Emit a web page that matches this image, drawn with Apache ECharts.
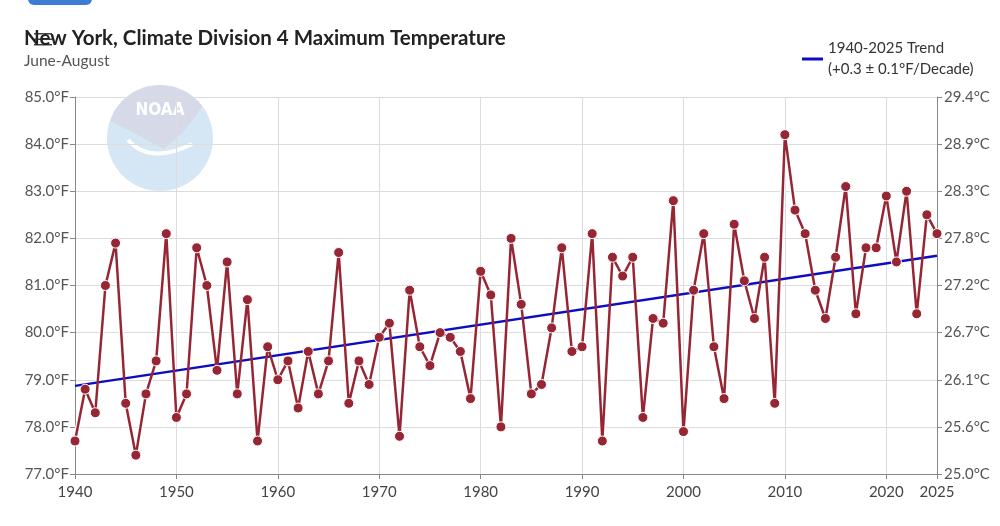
<!DOCTYPE html>
<html lang="en">
<head>
    <meta charset="UTF-8">
    <title>New York, Climate Division 4 Maximum Temperature</title>
    <script src="https://cdn.jsdelivr.net/npm/echarts@6.0.0/dist/echarts.min.js"></script>
    <style>
        html, body { margin: 0; padding: 0; background: #fff; }
    </style>
</head>
<body>
    <div id="main" style="width: 1000px;height:526px;"></div>
    <script type="text/javascript">
        // Summer (Jun-Aug) maximum temperature, degF, one value per year
        const years = [];
        for (let y = 1940; y <= 2025; y++) years.push(y);

        const tempF = [
            77.7, 78.8, 78.3, 81.0, 81.9, 78.5, 77.4, 78.7, 79.4, 82.1,  // 1940s
            78.2, 78.7, 81.8, 81.0, 79.2, 81.5, 78.7, 80.7, 77.7, 79.7,  // 1950s
            79.0, 79.4, 78.4, 79.6, 78.7, 79.4, 81.7, 78.5, 79.4, 78.9,  // 1960s
            79.9, 80.2, 77.8, 80.9, 79.7, 79.3, 80.0, 79.9, 79.6, 78.6,  // 1970s
            81.3, 80.8, 78.0, 82.0, 80.6, 78.7, 78.9, 80.1, 81.8, 79.6,  // 1980s
            79.7, 82.1, 77.7, 81.6, 81.2, 81.6, 78.2, 80.3, 80.2, 82.8,  // 1990s
            77.9, 80.9, 82.1, 79.7, 78.6, 82.3, 81.1, 80.3, 81.6, 78.5,  // 2000s
            84.2, 82.6, 82.1, 80.9, 80.3, 81.6, 83.1, 80.4, 81.8, 81.8,  // 2010s
            82.9, 81.5, 83.0, 80.4, 82.5, 82.1                           // 2020s
        ];

        // trend line end points (1940, 2025)
        const trendYears = [1940, 2025];
        const trendF = [78.87, 81.63];

        const fTicks = { min: 77, max: 85, step: 1 };

        const tempData = years.map((y, i) => [y, tempF[i]]);
        const trendData = trendYears.map((y, i) => [y, trendF[i]]);

        const font = 'Lato';
        const red = '#972635';
        const blue = '#0c0cc4';

        let myChart = echarts.init(document.getElementById('main'));

        let options = {
            animation: false,
            textStyle: { fontFamily: font },
            title: {
                text: 'New York, Climate Division 4 Maximum Temperature',
                subtext: 'June-August',
                left: 19,
                top: 23,
                itemGap: 4,
                textStyle: { fontFamily: font, fontSize: 20.5, fontWeight: 'bold', color: '#222' },
                subtextStyle: { fontFamily: font, fontSize: 15.5, color: '#555' }
            },
            legend: {
                left: 797,
                top: 33,
                data: ['trend'],
                icon: 'rect',
                itemWidth: 21,
                itemHeight: 3,
                itemGap: 10,
                formatter: () => '1940-2025 Trend\n(+0.3 ± 0.1°F/Decade)',
                textStyle: { fontFamily: font, fontSize: 15, color: '#333', lineHeight: 21 }
            },
            graphic: [
                // cut-off button at the top
                { type: 'rect', shape: { x: 28, y: -12, width: 64, height: 17, r: 6 }, style: { fill: '#3d7bd4' } },
                // menu icon
                { type: 'rect', shape: { x: 34, y: 33, width: 18, height: 1.5 }, style: { fill: '#444' } },
                { type: 'rect', shape: { x: 34, y: 38.5, width: 18, height: 1.5 }, style: { fill: '#444' } },
                { type: 'rect', shape: { x: 34, y: 44, width: 18, height: 1.5 }, style: { fill: '#444' } },
                // NOAA watermark
                { type: 'circle', z: -10, shape: { cx: 160, cy: 138, r: 53 }, style: { fill: '#d5e7f4' } },
                {
                    type: 'polygon', z: -9,
                    shape: {
                        points: [
                            [110, 121], [114.1, 111.5], [122.5, 100.5], [133.5, 92.1], [146.3, 86.8],
                            [160, 85], [173.7, 86.8], [186.5, 92.1], [197.5, 100.5], [202.3, 106.1],
                            [194, 118], [184, 131], [172, 142], [163, 149],
                            [150, 142], [138, 135], [124, 128]
                        ]
                    },
                    style: { fill: '#d6d9e7' }
                },
                {
                    type: 'bezierCurve', z: -8,
                    shape: { x1: 128, y1: 140, cpx1: 150, cpy1: 165, x2: 192, y2: 144 },
                    style: { fill: null, stroke: '#ffffff', lineWidth: 4 }
                },
                {
                    type: 'text', z: -8, x: 160, y: 111,
                    style: { text: 'NOAA', fill: '#ffffff', font: 'bold 17px "DejaVu Sans Condensed", sans-serif', align: 'center', verticalAlign: 'middle' }
                }
            ],
            grid: { left: 75, right: 63, top: 97, bottom: 52 },
            xAxis: {
                type: 'value',
                min: 1940,
                max: 2025,
                interval: 10,
                axisLine: { show: true, lineStyle: { color: '#888' } },
                axisTick: { show: true, length: 5, lineStyle: { color: '#888' } },
                axisLabel: {
                    fontFamily: font, fontSize: 15, color: '#444', margin: 11,
                    showMaxLabel: true, formatter: v => String(v)
                },
                splitLine: { show: true, lineStyle: { color: '#dcdcdc' } }
            },
            yAxis: [
                {
                    type: 'value',
                    min: fTicks.min,
                    max: fTicks.max,
                    interval: fTicks.step,
                    axisLine: { show: true, lineStyle: { color: '#888' } },
                    axisTick: { show: true, length: 5, lineStyle: { color: '#888' } },
                    axisLabel: {
                        fontFamily: font, fontSize: 15, color: '#555', margin: 6,
                        formatter: v => v.toFixed(1) + '°F'
                    },
                    splitLine: { show: true, lineStyle: { color: '#dcdcdc' } }
                },
                {
                    type: 'value',
                    position: 'right',
                    min: fTicks.min,
                    max: fTicks.max,
                    interval: fTicks.step,
                    axisLine: { show: true, lineStyle: { color: '#888' } },
                    axisTick: { show: true, length: 5, lineStyle: { color: '#888' } },
                    axisLabel: {
                        fontFamily: font, fontSize: 15, color: '#555', margin: 7,
                        formatter: v => ((v - 32) * 5 / 9).toFixed(1) + '°C'
                    },
                    splitLine: { show: false }
                }
            ],
            series: [
                {
                    name: 'halo',
                    type: 'line',
                    data: tempData,
                    symbol: 'none',
                    silent: true,
                    z: 1,
                    lineStyle: { color: '#ffffff', width: 5 }
                },
                {
                    name: 'trend',
                    type: 'line',
                    data: trendData,
                    symbol: 'none',
                    color: blue,
                    z: 2,
                    lineStyle: { color: blue, width: 2.5 }
                },
                {
                    name: 'temp',
                    type: 'line',
                    data: tempData,
                    symbol: 'circle',
                    symbolSize: 10,
                    color: red,
                    z: 3,
                    lineStyle: { color: red, width: 2.5 },
                    itemStyle: { color: red, borderColor: '#ffffff', borderWidth: 1 }
                }
            ]
        };

        myChart.setOption(options);
    </script>
</body>
</html>
